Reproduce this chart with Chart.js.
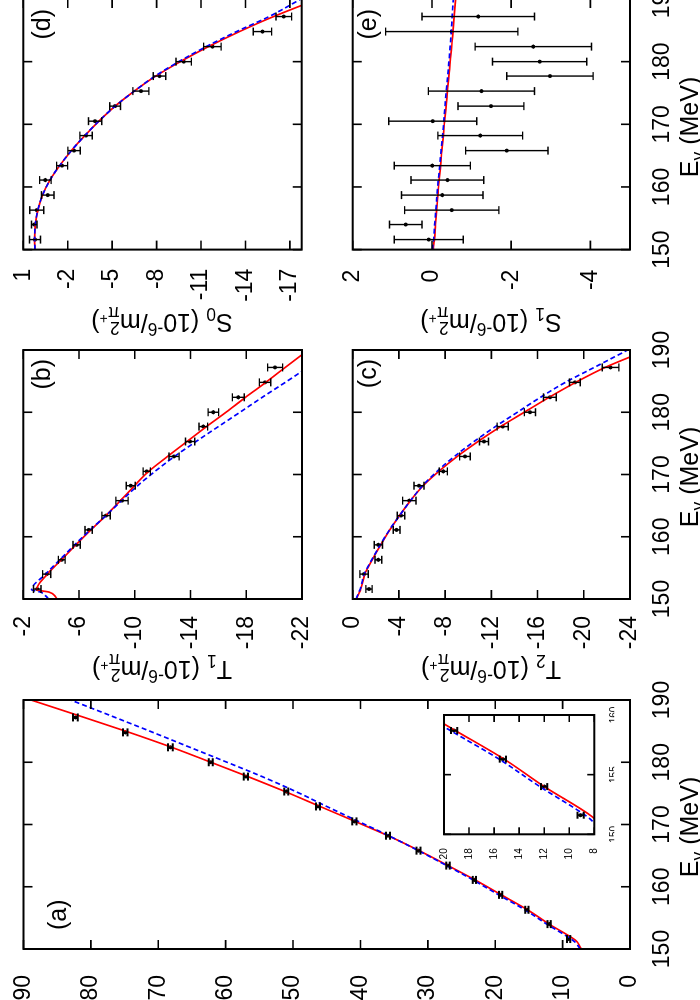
<!DOCTYPE html>
<html>
<head>
<meta charset="utf-8">
<script src="https://cdn.jsdelivr.net/npm/chart.js@4.4.1/dist/chart.umd.min.js"></script>
<style>
  html, body { margin: 0; padding: 0; background: #fff; }
  body { width: 700px; height: 1000px; overflow: hidden; position: relative; }
  /* the figure is landscape, drawn 1000x700 and turned a quarter left */
  #fig { position: absolute; left: 0; top: 0; width: 1000px; height: 700px;
         transform-origin: 0 0; transform: translate(0, 1000px) rotate(-90deg);
         font-family: "Liberation Sans", Arial, sans-serif; color: #000; }
  #fig canvas { position: absolute; }
  .txt { position: absolute; font-size: 25px; line-height: 1; height: 25px; white-space: nowrap; }
  .xt { transform: translateX(-50%); }
  .yt { transform: translate(-50%, -50%) rotate(-90deg); }
  sub, sup { font-size: 0.7em; line-height: 0; }
  .stk { display: inline-flex; flex-direction: column; font-size: 0.7em; line-height: 0.85; vertical-align: 0.5em; }
  .stk sup { font-size: 0.8em; }
</style>
</head>
<body>
<div id="fig">
  <canvas id="pa"></canvas>
  <canvas id="pin"></canvas>
  <canvas id="pb"></canvas>
  <canvas id="pc"></canvas>
  <canvas id="pd"></canvas>
  <canvas id="pe"></canvas>

  <div class="txt" style="left:70px;top:45px">(a)</div>
  <div class="txt" style="right:359px;top:29px">(b)</div>
  <div class="txt" style="right:359px;top:355px">(c)</div>
  <div class="txt" style="right:9px;top:29px">(d)</div>
  <div class="txt" style="right:9px;top:355px">(e)</div>

  <div class="txt xt" style="left:173px;top:677px">E<sub>γ</sub> (MeV)</div>
  <div class="txt xt" style="left:523px;top:677px">E<sub>γ</sub> (MeV)</div>
  <div class="txt xt" style="left:873px;top:677px">E<sub>γ</sub> (MeV)</div>

  <div class="txt yt" style="left:330px;top:162px">T<sub>1</sub> (10<sup>-6</sup>/m<span class="stk"><span>2</span><span>π<sup>+</sup></span></span>)</div>
  <div class="txt yt" style="left:330px;top:491px">T<sub>2</sub> (10<sup>-6</sup>/m<span class="stk"><span>2</span><span>π<sup>+</sup></span></span>)</div>
  <div class="txt yt" style="left:677px;top:162px">S<sub>0</sub> (10<sup>-6</sup>/m<span class="stk"><span>2</span><span>π<sup>+</sup></span></span>)</div>
  <div class="txt yt" style="left:677px;top:491px">S<sub>1</sub> (10<sup>-6</sup>/m<span class="stk"><span>2</span><span>π<sup>+</sup></span></span>)</div>
</div>

<script>
// ----------- Data -----------
const photonE = [151.6, 154.0, 156.3, 158.7, 161.1, 163.4, 165.8, 168.2,
                 170.5, 172.9, 175.3, 177.7, 180.0, 182.4, 184.8, 187.2];

const aVal = [9.1, 12.0, 15.3, 19.2, 23.1, 27.0, 31.4, 35.9, 40.9, 46.3, 51.0, 57.0, 62.2, 68.2, 74.9, 82.3];
const aErr = [0.25, 0.25, 0.25, 0.25, 0.25, 0.25, 0.3, 0.3, 0.3, 0.3, 0.3, 0.3, 0.3, 0.35, 0.35, 0.35];
const bVal = [-3.0, -3.68, -4.76, -5.83, -6.69, -7.94, -9.08, -9.71, -10.86, -12.82, -13.97, -14.92, -15.64, -17.43, -19.35, -20.07];
const bErr = [0.27, 0.29, 0.24, 0.26, 0.26, 0.3, 0.44, 0.32, 0.26, 0.36, 0.33, 0.31, 0.38, 0.43, 0.41, 0.54];
const cVal = [-1.41, -0.98, -2.22, -2.22, -3.8, -4.18, -4.9, -5.74, -7.84, -9.71, -11.36, -12.98, -15.34, -17.07, -19.23, -22.32];
const cErr = [0.27, 0.36, 0.29, 0.36, 0.29, 0.33, 0.58, 0.43, 0.35, 0.46, 0.39, 0.48, 0.48, 0.55, 0.46, 0.72];
const dVal = [0.21, 0.26, 0.09, -0.65, -0.49, -1.62, -2.43, -3.24, -3.85, -5.2, -6.94, -8.2, -9.83, -11.77, -15.15, -16.59];
const dErr = [0.37, 0.19, 0.47, 0.42, 0.39, 0.37, 0.42, 0.42, 0.45, 0.36, 0.54, 0.42, 0.52, 0.59, 0.62, 0.53];
const eVal = [0.08, 0.66, -0.50, -0.26, -0.39, -0.01, -1.89, -1.22, -0.02, -1.49, -1.25, -2.98, -2.72, -2.56, -0.50, -1.17];
const eErr = [0.87, 0.41, 1.19, 1.03, 0.92, 0.96, 1.04, 1.07, 1.11, 0.83, 1.34, 1.09, 1.19, 1.47, 1.67, 1.42];

// model curves (red solid, blue dashed), read at these energies
const curveE = [150, 150.4, 151.1, 151.5, 154.0, 156.3, 158.7, 161.1, 163.4, 165.8,
                168.2, 170.5, 172.9, 175.3, 177.7, 180.0, 182.4, 184.8, 187.2, 190];
const aRed  = [7.2, 7.45, 7.8, 8.2, 12.0, 15.2, 19.1, 23.0, 27.0, 31.3, 35.9, 40.8, 46.0, 51.2, 56.7, 62.2, 68.0, 74.3, 81.0, 88.9];
const aBlue = [7.4, 7.65, 8.15, 8.6, 12.35, 15.6, 19.5, 23.3, 27.2, 31.4, 35.8, 40.3, 45.0, 49.6, 54.6, 59.8, 65.3, 70.8, 76.4, 83.0];
const bRed  = [-4.4, -4.3, -3.87, -2.96, -3.72, -4.74, -5.78, -6.85, -7.93, -8.97, -9.98, -11.0, -12.35, -13.75, -15.15, -16.55, -17.95, -19.4, -20.8, -22.45];
const bBlue = [-3.8, -3.65, -3.25, -2.6, -3.6, -4.62, -5.68, -6.8, -7.93, -9.05, -10.2, -11.45, -12.85, -14.4, -16.0, -17.55, -19.15, -20.8, -22.4, -24.2];
const cRed  = [-0.35, -0.42, -0.58, -0.68, -1.05, -1.7, -2.42, -3.2, -4.05, -5.0, -6.1, -7.45, -9.05, -10.85, -12.8, -14.85, -17.0, -19.3, -21.85, -25.5];
const cBlue = [-0.3, -0.38, -0.53, -0.63, -1.0, -1.65, -2.38, -3.18, -4.05, -5.0, -6.05, -7.3, -8.8, -10.5, -12.35, -14.25, -16.25, -18.4, -20.9, -23.8];
const dRed  = [0.21, 0.22, 0.23, 0.23, 0.19, 0.02, -0.3, -0.8, -1.45, -2.25, -3.15, -4.1, -5.2, -6.5, -7.95, -9.6, -11.5, -13.6, -15.9, -18.9];
const dBlue = [0.21, 0.22, 0.23, 0.23, 0.19, 0.02, -0.3, -0.8, -1.45, -2.25, -3.15, -4.1, -5.2, -6.5, -7.9, -9.5, -11.35, -13.4, -15.6, -17.75];
const eRed  = [-0.04, -0.04, -0.05, -0.06, -0.09, -0.12, -0.15, -0.18, -0.22, -0.25, -0.29, -0.32, -0.36, -0.39, -0.43, -0.46, -0.5, -0.53, -0.56, -0.6];
const eBlue = [-0.02, -0.02, -0.03, -0.04, -0.07, -0.1, -0.13, -0.16, -0.2, -0.23, -0.27, -0.3, -0.33, -0.36, -0.4, -0.43, -0.46, -0.49, -0.51, -0.54];

// ----------- Ticks -----------
const eTicks     = [150, 160, 170, 180, 190];
const aTicks     = [0, 10, 20, 30, 40, 50, 60, 70, 80, 90];
const bTicks     = [-2, -6, -10, -14, -18, -22];
const cTicks     = [0, -4, -8, -12, -16, -20, -24];
const dTicks     = [1, -2, -5, -8, -11, -14, -17];
const s1Ticks    = [2, 0, -2, -4];
const insetETicks = [150, 155, 160];
const insetTicks  = [8, 10, 12, 14, 16, 18, 20];

// ----------- Plugins -----------
const frame = {
    id: "frame",
    afterDraw(chart, args, opts) {
        const {ctx, chartArea: a, scales: {x, y}} = chart;
        const len = opts.len;
        ctx.save();
        ctx.strokeStyle = "#000";
        ctx.lineWidth = 1.6;
        ctx.beginPath();
        x.ticks.forEach(t => {
            const p = x.getPixelForValue(t.value);
            ctx.moveTo(p, a.bottom); ctx.lineTo(p, a.bottom - len);
            ctx.moveTo(p, a.top); ctx.lineTo(p, a.top + len);
        });
        y.ticks.forEach(t => {
            const p = y.getPixelForValue(t.value);
            ctx.moveTo(a.left, p); ctx.lineTo(a.left + len, p);
            ctx.moveTo(a.right, p); ctx.lineTo(a.right - len, p);
        });
        ctx.stroke();
        ctx.lineWidth = 2;
        ctx.strokeRect(a.left, a.top, a.right - a.left, a.bottom - a.top);
        ctx.restore();
    }
};

const errbars = {
    id: "errbars",
    afterDatasetsDraw(chart, args, opts) {
        const {ctx, chartArea: a, scales: {x, y}} = chart;
        ctx.save();
        ctx.beginPath();
        ctx.rect(a.left, a.top, a.right - a.left, a.bottom - a.top);
        ctx.clip();
        ctx.strokeStyle = "#000";
        ctx.lineWidth = opts.width;
        chart.data.datasets.forEach(ds => {
            if (!ds.errors) return;
            ctx.beginPath();
            ds.data.forEach((p, i) => {
                const px = x.getPixelForValue(p.x);
                const lo = y.getPixelForValue(p.y - ds.errors[i]);
                const hi = y.getPixelForValue(p.y + ds.errors[i]);
                ctx.moveTo(px, lo); ctx.lineTo(px, hi);
                ctx.moveTo(px - opts.cap, lo); ctx.lineTo(px + opts.cap, lo);
                ctx.moveTo(px - opts.cap, hi); ctx.lineTo(px + opts.cap, hi);
            });
            ctx.stroke();
        });
        ctx.restore();
    }
};

// ----------- Panels -----------
const xy = (xs, ys) => xs.map((x, i) => ({x: x, y: ys[i]}));
const asc = arr => [...arr].sort((p, q) => p - q);

function zeroPad(s) {
    s.paddingLeft = 0; s.paddingRight = 0; s.paddingTop = 0; s.paddingBottom = 0;
}

function makePanel(id, box, area, o) {
    const cv = document.getElementById(id);
    cv.width = box.w; cv.height = box.h;
    cv.style.left = box.x + "px"; cv.style.top = box.y + "px";
    cv.style.width = box.w + "px"; cv.style.height = box.h + "px";
    const yW = area.l - box.x;
    const xH = o.xLabels ? o.xH : 0;

    new Chart(cv, {
        type: "line",
        data: {
            datasets: [
                { data: xy(curveE, o.blue), borderColor: "#0000ff", borderWidth: o.lw, borderDash: [5, 3],
                  pointRadius: 0, cubicInterpolationMode: "monotone", fill: false },
                { data: xy(curveE, o.red), borderColor: "#ff0000", borderWidth: o.lw,
                  pointRadius: 0, cubicInterpolationMode: "monotone", fill: false },
                { data: xy(photonE, o.val), errors: o.err, showLine: false,
                  pointRadius: o.r, pointBackgroundColor: "#000", pointBorderWidth: 0 }
            ]
        },
        options: {
            responsive: false, animation: false, events: [],
            layout: { padding: { left: 0, top: area.t - box.y, right: box.x + box.w - area.r,
                                 bottom: box.y + box.h - area.b - xH } },
            plugins: {
                legend: { display: false }, tooltip: { enabled: false },
                frame: { len: o.tick },
                errbars: { cap: o.cap, width: o.ew }
            },
            scales: {
                x: {
                    type: "linear", min: o.xmin, max: o.xmax, bounds: "data",
                    grid: { display: false }, border: { display: false },
                    ticks: { display: o.xLabels, padding: o.xPad, color: "#000", maxRotation: 0,
                             autoSkip: false, font: { size: o.fs } },
                    afterBuildTicks: s => { s.ticks = asc(o.xTicks).map(v => ({value: v})); },
                    afterFit: s => { s.height = xH; zeroPad(s); }
                },
                y: {
                    type: "linear", min: o.ymin, max: o.ymax, bounds: "data",
                    grid: { display: false }, border: { display: false },
                    ticks: { padding: o.yPad, color: "#000", autoSkip: false, font: { size: o.fs } },
                    afterBuildTicks: s => { s.ticks = asc(o.yTicks).map(v => ({value: v})); },
                    afterFit: s => { s.width = yW; zeroPad(s); }
                }
            }
        },
        plugins: [frame, errbars]
    });
}

Chart.defaults.font.family = '"Liberation Sans", Arial, sans-serif';

const main = { xmin: 150, xmax: 190, xTicks: eTicks, fs: 23, xH: 50, xPad: 11,
               tick: 9, lw: 1.7, r: 2, cap: 4, ew: 1.4 };

makePanel("pa", {x: 0, y: 0, w: 330, h: 700}, {l: 51, t: 23.5, r: 300, b: 630},
    Object.assign({}, main, { ymin: 0, ymax: 90, yTicks: aTicks, yPad: 18, xLabels: true,
        val: aVal, err: aErr, red: aRed, blue: aBlue, ew: 2 }));

makePanel("pin", {x: 125, y: 430, w: 175, h: 200}, {l: 165.7, t: 444, r: 285, b: 594.3},
    { xmin: 150, xmax: 160, xTicks: insetETicks, ymin: 8, ymax: 20, yTicks: insetTicks,
      fs: 10, xH: 20, xPad: 6, yPad: 6, xLabels: true, tick: 7, lw: 1.7, r: 2, cap: 3.5, ew: 2,
      val: aVal, err: aErr, red: aRed, blue: aBlue });

makePanel("pb", {x: 340, y: 0, w: 330, h: 330}, {l: 401, t: 23.3, r: 650, b: 302},
    Object.assign({}, main, { ymin: -22, ymax: -2, yTicks: bTicks, yPad: 9, xLabels: false,
        val: bVal, err: bErr, red: bRed, blue: bBlue }));

makePanel("pc", {x: 340, y: 330, w: 330, h: 370}, {l: 401, t: 352.7, r: 650, b: 630},
    Object.assign({}, main, { ymin: -24, ymax: 0, yTicks: cTicks, yPad: 9, xLabels: true,
        val: cVal, err: cErr, red: cRed, blue: cBlue }));

makePanel("pd", {x: 690, y: 0, w: 320, h: 330}, {l: 750.4, t: 23.3, r: 1001, b: 301.7},
    Object.assign({}, main, { ymin: -17.8, ymax: 1, yTicks: dTicks, yPad: 11, xLabels: false,
        val: dVal, err: dErr, red: dRed, blue: dBlue }));

makePanel("pe", {x: 690, y: 330, w: 320, h: 370}, {l: 750.4, t: 352.7, r: 1001, b: 630},
    Object.assign({}, main, { ymin: -5, ymax: 2, yTicks: s1Ticks, yPad: 12, xLabels: true,
        val: eVal, err: eErr, red: eRed, blue: eBlue }));
</script>
</body>
</html>
